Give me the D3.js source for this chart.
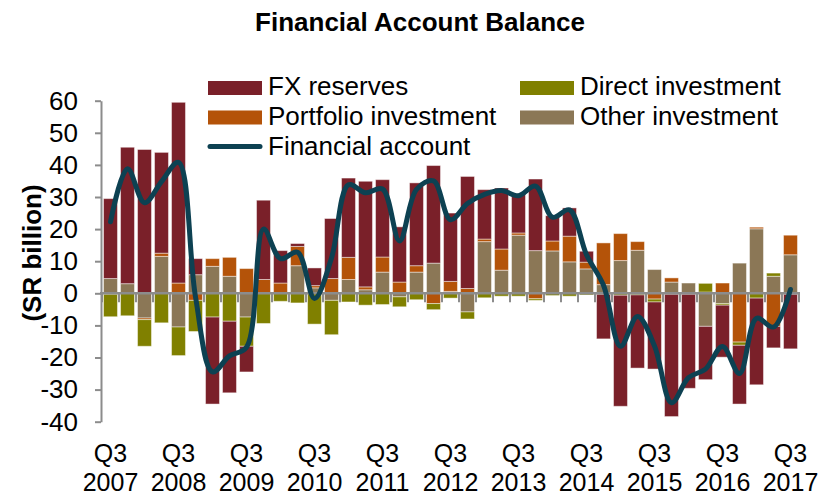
<!DOCTYPE html>
<html>
<head>
<meta charset="utf-8">
<script src="https://cdn.jsdelivr.net/npm/d3@7"></script>
<style>
  body { margin: 0; background: #fff; }
  svg { display: block; font-family: "Liberation Sans", Arial, sans-serif; }
</style>
</head>
<body>
<svg id="chart" width="828" height="497"></svg>
<script>
// quarters Q3 2007 .. Q3 2017
var quarters = [
	"Q3 2007","Q4 2007","Q1 2008","Q2 2008","Q3 2008","Q4 2008","Q1 2009","Q2 2009",
	"Q3 2009","Q4 2009","Q1 2010","Q2 2010","Q3 2010","Q4 2010","Q1 2011","Q2 2011",
	"Q3 2011","Q4 2011","Q1 2012","Q2 2012","Q3 2012","Q4 2012","Q1 2013","Q2 2013",
	"Q3 2013","Q4 2013","Q1 2014","Q2 2014","Q3 2014","Q4 2014","Q1 2015","Q2 2015",
	"Q3 2015","Q4 2015","Q1 2016","Q2 2016","Q3 2016","Q4 2016","Q1 2017","Q2 2017",
	"Q3 2017"
];

var fxReserves = [
	24.9, 42.5, 44.8, 31.4, 56.3, 5.0, -27.1, -22.3,
	-8.0, 24.7, 10.1, 0.9, 5.5, 18.7, 24.7, 32.9,
	24.1, 17.2, 25.8, 30.4, 21.3, 34.9, 15.4, 19.0,
	12.2, 22.3, 7.9, 8.8, 3.4, -13.9, -34.6, -22.8,
	-20.9, -38.1, -29.3, -16.6, -16.2, -18.3, -27.0, -6.7,
	-17.0
];

var portfolioInvestment = [
	-0.3, 0, -0.5, 1.0, 3.2, -2.2, 2.4, 5.9,
	7.7, 4.3, 3.2, 6.0, 0.7, 4.6, 6.9, 0.9,
	4.7, 3.5, 2.0, -3.2, 3.1, 1.5, 0.8, 6.6,
	0.7, -1.7, 3.1, 8.0, 2.1, 13.0, 8.4, 2.7,
	-1.8, 1.3, 0, 0.4, 3.2, -15.2, 0.5, -10.3,
	6.1
];

var directInvestment = [
	-7.0, -7.0, -8.3, -9.2, -8.9, -9.7, -7.4, -8.7,
	-9.1, -9.4, -2.5, -3.0, -9.6, -10.7, -2.7, -3.7,
	-3.5, -3.1, -2.0, -1.9, -1.5, -2.2, -1.4, -0.9,
	-0.9, -0.5, -0.7, -0.9, -0.5, -0.3, -0.6, -0.5,
	-0.9, -0.3, -0.3, 2.7, -0.5, -1.0, -1.5, 1.0,
	-0.3
];

var otherInvestment = [
	4.6, 3.0, -7.7, 11.5, -10.5, 5.8, 8.4, 5.3,
	-7.4, 0, 0, 8.6, 1.7, -2.2, 4.3, 1.1,
	6.6, -1.1, 6.6, 9.4, 0.6, -5.8, 16.1, 7.2,
	18.1, 13.3, 13.2, 9.8, 7.6, 2.7, 10.2, 13.4,
	7.4, 3.5, 3.2, -10.3, -3.2, 9.4, 20.1, 5.3,
	12.0
];

var financialAccount = [
	22.3, 38.8, 28.2, 34.8, 40.8, -1.1, -24.5, -19.5,
	-16.8, 20.0, 10.8, 12.8, -1.6, 11.0, 33.8, 31.3,
	32.5, 16.3, 32.4, 35.0, 22.9, 28.0, 30.8, 32.0,
	30.4, 33.4, 23.7, 26.0, 12.0, 2.5, -16.5, -7.2,
	-16.4, -34.1, -26.3, -23.6, -16.6, -25.0, -7.8, -10.5,
	1.2
];

var yTicks = [60, 50, 40, 30, 20, 10, 0, -10, -20, -30, -40];

var colours = {
	fx: "#7a2029",
	portfolio: "#b45309",
	direct: "#808000",
	other: "#8b7756",
	line: "#0d4152",
	axis: "#8c8c8c"
};

// stack order seen in the bars: other nearest zero, then portfolio, direct, FX
var keys = ["other", "portfolio", "direct", "fx"];

var rows = quarters.map(function (q, i) {
	return {
		q: q,
		fx: fxReserves[i],
		portfolio: portfolioInvestment[i],
		direct: directInvestment[i],
		other: otherInvestment[i]
	};
});

var svg = d3.select("#chart");

var x = d3.scaleBand()
	.domain(quarters)
	.range([102, 799])
	.paddingInner(0.18)
	.paddingOuter(0.09);

var y = d3.scaleLinear()
	.domain([-40, 60])
	.range([421.7, 100.7]);

var series = d3.stack()
	.keys(keys)
	.offset(d3.stackOffsetDiverging)(rows);

// bars
svg.append("g")
	.attr("class", "bars")
	.selectAll("g")
	.data(series)
	.enter()
  .append("g")
	.attr("fill", function (s) { return colours[s.key]; })
	.selectAll("rect")
	.data(function (s) { return s; })
	.enter()
  .append("rect")
	.attr("x", function (d) { return x(d.data.q); })
	.attr("width", x.bandwidth())
	.attr("y", function (d) { return y(Math.max(d[0], d[1])); })
	.attr("height", function (d) { return Math.abs(y(d[0]) - y(d[1])); })
	.attr("stroke", "rgba(255,255,255,0.45)")
	.attr("stroke-width", 1);

// y axis
var yAxis = svg.append("g")
	.attr("transform", "translate(101,0)")
	.call(d3.axisLeft(y)
		.tickValues(yTicks)
		.tickFormat(function (d) { return String(d); })
		.tickSize(6)
		.tickPadding(17)
		.tickSizeOuter(0));

yAxis.select(".domain")
	.attr("stroke", colours.axis)
	.attr("stroke-width", 2);
yAxis.selectAll(".tick line")
	.attr("stroke", colours.axis)
	.attr("stroke-width", 2);
yAxis.selectAll(".tick text")
	.attr("fill", "#000")
	.style("font-size", "26px")
	.style("font-family", "Liberation Sans, Arial, sans-serif");

// zero line with category boundary ticks
var step = x.step();
var zero = svg.append("g").attr("class", "zeroAxis");

zero.selectAll("line.tick")
	.data(quarters.concat(["end"]))
	.enter()
  .append("line")
	.attr("class", "tick")
	.attr("x1", function (d, i) { return x.range()[0] + i * step; })
	.attr("x2", function (d, i) { return x.range()[0] + i * step; })
	.attr("y1", y(0))
	.attr("y2", y(0) + 9)
	.attr("stroke", colours.axis)
	.attr("stroke-width", 2);

zero.append("line")
	.attr("x1", 100)
	.attr("x2", x.range()[1] + 1)
	.attr("y1", y(0))
	.attr("y2", y(0))
	.attr("stroke", colours.axis)
	.attr("stroke-width", 2.5);

// category labels, every fourth quarter
var labels = svg.append("g")
	.attr("class", "xLabels")
	.style("font-size", "25px")
	.attr("text-anchor", "middle");

labels.selectAll("text")
	.data(quarters.filter(function (d, i) { return i % 4 === 0; }))
	.enter()
  .append("text")
	.attr("x", function (d) { return x(d) + x.bandwidth() / 2; })
	.attr("y", 462)
	.each(function (d) {
		var parts = d.split(" ");
		d3.select(this).append("tspan")
			.attr("x", x(d) + x.bandwidth() / 2)
			.text(parts[0]);
		d3.select(this).append("tspan")
			.attr("x", x(d) + x.bandwidth() / 2)
			.attr("dy", 29)
			.text(parts[1]);
	});

// financial account line
var line = d3.line()
	.x(function (d, i) { return x(quarters[i]) + x.bandwidth() / 2; })
	.y(function (d) { return y(d); })
	.curve(d3.curveCatmullRom.alpha(0.5));

svg.append("path")
	.datum(financialAccount)
	.attr("d", line)
	.attr("fill", "none")
	.attr("stroke", colours.line)
	.attr("stroke-width", 5)
	.attr("stroke-linejoin", "round")
	.attr("stroke-linecap", "round");

// title
svg.append("text")
	.attr("x", 420)
	.attr("y", 31)
	.attr("text-anchor", "middle")
	.style("font-size", "26px")
	.style("font-weight", "bold")
	.text("Financial Account Balance");

// y title
svg.append("text")
	.attr("transform", "translate(41,253) rotate(-90)")
	.attr("text-anchor", "middle")
	.style("font-size", "26px")
	.style("font-weight", "bold")
	.text("(SR billion)");

// legend
var legendItems = [
	{ label: "FX reserves", key: "fx", type: "rect", x: 208, y: 95 },
	{ label: "Portfolio investment", key: "portfolio", type: "rect", x: 208, y: 124.5 },
	{ label: "Financial account", key: "line", type: "line", x: 208, y: 154.5 },
	{ label: "Direct investment", key: "direct", type: "rect", x: 520, y: 95 },
	{ label: "Other investment", key: "other", type: "rect", x: 520, y: 124.5 }
];

var legend = svg.append("g").attr("class", "legend");

legendItems.forEach(function (d) {
	if (d.type === "rect") {
		legend.append("rect")
			.attr("x", d.x)
			.attr("y", d.y - 14)
			.attr("width", 54)
			.attr("height", 14)
			.attr("fill", colours[d.key]);
	} else {
		legend.append("line")
			.attr("x1", d.x + 2)
			.attr("x2", d.x + 52)
			.attr("y1", d.y - 8)
			.attr("y2", d.y - 8)
			.attr("stroke", colours.line)
			.attr("stroke-width", 5)
			.attr("stroke-linecap", "round");
	}
	legend.append("text")
		.attr("x", d.x + 60)
		.attr("y", d.y)
		.style("font-size", "26px")
		.text(d.label);
});
</script>
</body>
</html>
